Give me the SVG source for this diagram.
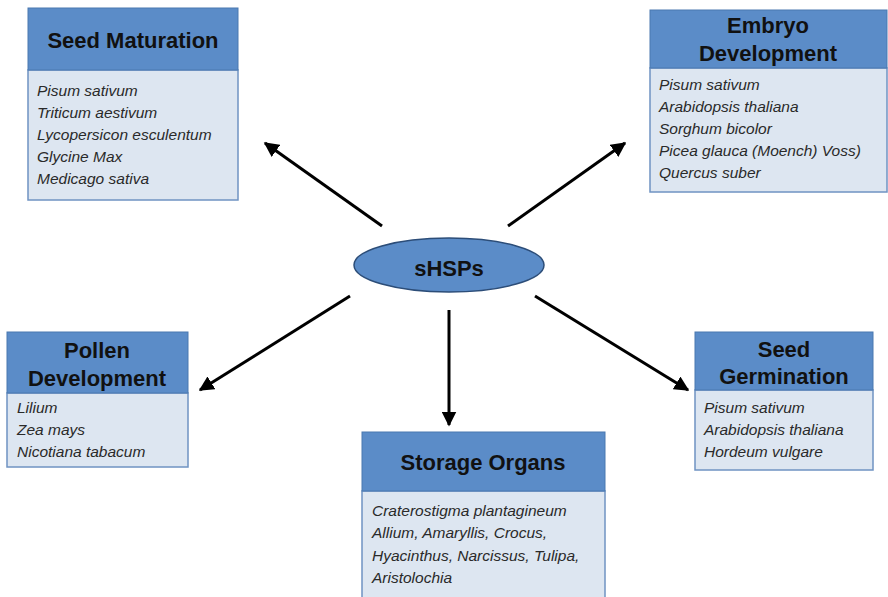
<svg xmlns="http://www.w3.org/2000/svg" width="888" height="597" viewBox="0 0 888 597">
<defs>
<marker id="ah" viewBox="0 0 10 10" refX="9" refY="5" markerWidth="5" markerHeight="5" orient="auto" markerUnits="strokeWidth">
<path d="M0,0 L10,5 L0,10 z" fill="#000"/>
</marker>
<style>
.hd{fill:#5b8cc8;stroke:#4a78b0;stroke-width:1}
.bd{fill:#dde6f1;stroke:#6f93c2;stroke-width:1.5}
.t{font-family:"Liberation Sans",Arial,sans-serif;font-weight:bold;font-size:22px;fill:#111;text-anchor:middle}
.b{font-family:"Liberation Sans",Arial,sans-serif;font-style:italic;font-size:15.5px;fill:#2a2a2a}
.c{stroke:#000;stroke-width:3;fill:none;marker-end:url(#ah)}
</style>
</defs>
<rect width="888" height="597" fill="#fff"/>
<g id="connectors">
<line class="c" x1="382" y1="226" x2="265" y2="143"/>
<line class="c" x1="508" y1="226" x2="625" y2="143"/>
<line class="c" x1="350" y1="296" x2="200" y2="390"/>
<line class="c" x1="449" y1="310" x2="449" y2="425"/>
<line class="c" x1="535" y1="296" x2="688" y2="390"/>
</g>
<g id="center">
<ellipse cx="449" cy="265" rx="95" ry="27" fill="#5b8cc8" stroke="#2c4d78" stroke-width="1.5"/>
<text class="t" x="449" y="276" font-size="30">sHSPs</text>
</g>
<g id="seed-maturation">
<rect class="bd" x="28" y="70" width="210" height="130"/>
<rect class="hd" x="28" y="8" width="210" height="62"/>
<text class="t" x="133" y="48">Seed Maturation</text>
<text class="b" x="37" y="96">Pisum sativum</text>
<text class="b" x="37" y="118">Triticum aestivum</text>
<text class="b" x="37" y="140">Lycopersicon esculentum</text>
<text class="b" x="37" y="162">Glycine Max</text>
<text class="b" x="37" y="184">Medicago sativa</text>
</g>
<g id="embryo-development">
<rect class="bd" x="650" y="68" width="237" height="124"/>
<rect class="hd" x="650" y="10" width="237" height="58"/>
<text class="t" x="768" y="33">Embryo</text>
<text class="t" x="768" y="61">Development</text>
<text class="b" x="659" y="90">Pisum sativum</text>
<text class="b" x="659" y="112">Arabidopsis thaliana</text>
<text class="b" x="659" y="134">Sorghum bicolor</text>
<text class="b" x="659" y="156">Picea glauca (Moench) Voss)</text>
<text class="b" x="659" y="178">Quercus suber</text>
</g>
<g id="pollen-development">
<rect class="bd" x="7" y="393" width="181" height="74"/>
<rect class="hd" x="7" y="332" width="181" height="61"/>
<text class="t" x="97" y="358">Pollen</text>
<text class="t" x="97" y="386">Development</text>
<text class="b" x="17" y="413">Lilium</text>
<text class="b" x="17" y="435">Zea mays</text>
<text class="b" x="17" y="457">Nicotiana tabacum</text>
</g>
<g id="seed-germination">
<rect class="bd" x="695" y="390" width="178" height="80"/>
<rect class="hd" x="695" y="332" width="178" height="58"/>
<text class="t" x="784" y="357">Seed</text>
<text class="t" x="784" y="384">Germination</text>
<text class="b" x="704" y="413">Pisum sativum</text>
<text class="b" x="704" y="435">Arabidopsis thaliana</text>
<text class="b" x="704" y="457">Hordeum vulgare</text>
</g>
<g id="storage-organs">
<rect class="bd" x="362" y="491" width="243" height="110"/>
<rect class="hd" x="362" y="432" width="243" height="59"/>
<text class="t" x="483" y="470">Storage Organs</text>
<text class="b" x="372" y="516">Craterostigma plantagineum</text>
<text class="b" x="372" y="538">Allium, Amaryllis, Crocus,</text>
<text class="b" x="372" y="561">Hyacinthus, Narcissus, Tulipa,</text>
<text class="b" x="372" y="583">Aristolochia</text>
</g>
</svg>
